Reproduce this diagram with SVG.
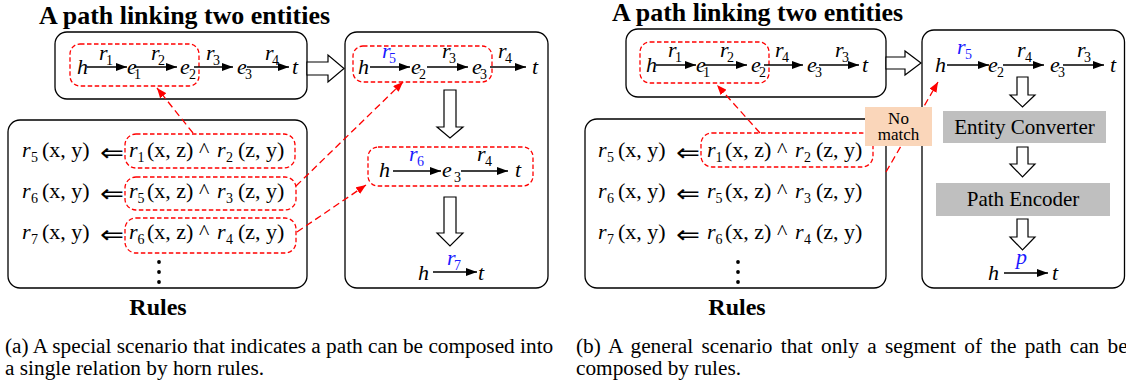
<svg xmlns="http://www.w3.org/2000/svg" width="1126" height="384" viewBox="0 0 1126 384">
<style>
.t{font-family:"Liberation Serif","Times New Roman",serif;fill:#000}
.it{font-family:"Liberation Serif","Times New Roman",serif;font-style:italic;font-size:22px}
.sub{font-family:"Liberation Serif","Times New Roman",serif;font-size:14px}
.rm{font-family:"Liberation Serif","Times New Roman",serif;font-size:22px}
.imp{font-family:"DejaVu Sans",sans-serif;font-size:25px}
.bold{font-family:"Liberation Serif","Times New Roman",serif;font-weight:bold}
.blue{fill:#1a1aff}
.box{fill:#fff;stroke:#000;stroke-width:1.3}
.red{fill:none;stroke:#ff0000;stroke-width:1.3;stroke-dasharray:4.5 2.5}
.conn{fill:none;stroke:#ff0000;stroke-width:1.3;stroke-dasharray:7 4;marker-end:url(#ra)}
.arr{stroke:#000;stroke-width:1.5;marker-end:url(#ba)}
.hollow{fill:#fff;stroke:#000;stroke-width:1.2}
.gray{fill:#bfbfbf}
.cap{font-family:"Liberation Serif","Times New Roman",serif;font-size:21.3px}
</style>
<defs>
<marker id="ba" markerUnits="userSpaceOnUse" markerWidth="11" markerHeight="8" refX="11" refY="4" orient="auto"><path d="M0,0 L11,4 L0,8 z" fill="#000"/></marker>
<marker id="ra" markerUnits="userSpaceOnUse" markerWidth="10" markerHeight="8" refX="10" refY="4" orient="auto"><path d="M0,0 L10,4 L0,8 z" fill="#ff0000"/></marker>
</defs>
<rect width="1126" height="384" fill="#fff"/>

<!-- ===== Panel (a) ===== -->
<g id="a-title"><text class="bold" x="39" y="24" font-size="25" textLength="291" lengthAdjust="spacingAndGlyphs">A path linking two entities</text></g>

<g id="a-path">
<rect class="box" x="55" y="32" width="252" height="67" rx="12"/>
<rect class="red" x="70" y="44" width="129" height="42" rx="10"/>
<text class="it" x="77" y="74">h</text>
<line class="arr" x1="87" y1="67" x2="127" y2="67"/>
<text class="it" x="99" y="60">r</text><text class="sub" x="106" y="65">1</text>
<text class="it" x="127" y="74">e</text><text class="sub" x="134" y="79">1</text>
<line class="arr" x1="134" y1="67" x2="177" y2="67"/>
<text class="it" x="151" y="60">r</text><text class="sub" x="158" y="65">2</text>
<text class="it" x="180" y="74">e</text><text class="sub" x="189" y="79">2</text>
<line class="arr" x1="194" y1="67" x2="233" y2="67"/>
<text class="it" x="206" y="60">r</text><text class="sub" x="213" y="65">3</text>
<text class="it" x="237" y="74">e</text><text class="sub" x="245" y="79">3</text>
<line class="arr" x1="247" y1="67" x2="289" y2="67"/>
<text class="it" x="265" y="60">r</text><text class="sub" x="272" y="65">4</text>
<text class="it" x="292" y="74">t</text>
</g>

<g id="a-arrow-right"><polygon class="hollow" points="307,62 328,62 328,55 344,68.5 328,82 328,75 307,75"/></g>

<g id="a-result">
<rect class="box" x="345" y="32" width="203" height="256" rx="12"/>
<rect class="red" x="353" y="46" width="139" height="36" rx="10"/>
<text class="it" x="358" y="74">h</text>
<line class="arr" x1="370" y1="67" x2="410" y2="67"/>
<text class="it blue" x="382" y="58">r</text><text class="sub blue" x="389" y="63">5</text>
<text class="it" x="411" y="74">e</text><text class="sub" x="419" y="79">2</text>
<line class="arr" x1="427" y1="67" x2="468" y2="67"/>
<text class="it" x="442" y="58">r</text><text class="sub" x="449" y="63">3</text>
<text class="it" x="472" y="74">e</text><text class="sub" x="480" y="79">3</text>
<line class="arr" x1="490" y1="67" x2="526" y2="67"/>
<text class="it" x="498" y="58">r</text><text class="sub" x="505" y="63">4</text>
<text class="it" x="532" y="74">t</text>

<polygon class="hollow" points="444,90 456,90 456,127 463,127 450,138 437,127 444,127"/>

<rect class="red" x="368" y="147" width="165" height="39" rx="10"/>
<text class="it" x="379" y="177">h</text>
<line class="arr" x1="393" y1="171" x2="441" y2="171"/>
<text class="it blue" x="409" y="161">r</text><text class="sub blue" x="417" y="166">6</text>
<text class="it" x="442" y="177">e</text><text class="sub" x="454" y="182">3</text>
<line class="arr" x1="461" y1="171" x2="508" y2="171"/>
<text class="it" x="477" y="161">r</text><text class="sub" x="485" y="166">4</text>
<text class="it" x="515" y="177">t</text>

<polygon class="hollow" points="444,197 456,197 456,233 463,233 450,246 437,233 444,233"/>

<text class="it" x="418" y="280">h</text>
<line class="arr" x1="433" y1="272" x2="477" y2="272"/>
<text class="it blue" x="447" y="265">r</text><text class="sub blue" x="454" y="270">7</text>
<text class="it" x="478" y="280">t</text>
</g>

<g id="a-rules">
<rect class="box" x="8" y="120" width="299" height="168" rx="12"/>
<rect class="red" x="125" y="134" width="170" height="34" rx="11"/>
<rect class="red" x="125" y="177" width="171" height="33" rx="11"/>
<rect class="red" x="125" y="218" width="171" height="35" rx="11"/>
<g>
<text class="it" x="22" y="157">r</text><text class="sub" x="31" y="162">5</text><text class="rm" x="42" y="157">(x, y)</text>
<text class="imp" x="100" y="161" textLength="24" lengthAdjust="spacingAndGlyphs">⇐</text>
<text class="it" x="129" y="157">r</text><text class="sub" x="137.5" y="162">1</text><text class="rm" x="147" y="157">(x, z)</text>
<text class="rm" x="199" y="157">^</text>
<text class="it" x="217" y="157">r</text><text class="sub" x="226" y="162">2</text><text class="rm" x="238" y="157">(z, y)</text>
</g>
<g>
<text class="it" x="22" y="198">r</text><text class="sub" x="31" y="203">6</text><text class="rm" x="42" y="198">(x, y)</text>
<text class="imp" x="100" y="202" textLength="24" lengthAdjust="spacingAndGlyphs">⇐</text>
<text class="it" x="129" y="198">r</text><text class="sub" x="137.5" y="203">5</text><text class="rm" x="147" y="198">(x, z)</text>
<text class="rm" x="199" y="198">^</text>
<text class="it" x="217" y="198">r</text><text class="sub" x="226" y="203">3</text><text class="rm" x="238" y="198">(z, y)</text>
</g>
<g>
<text class="it" x="22" y="239">r</text><text class="sub" x="31" y="244">7</text><text class="rm" x="42" y="239">(x, y)</text>
<text class="imp" x="100" y="243" textLength="24" lengthAdjust="spacingAndGlyphs">⇐</text>
<text class="it" x="129" y="239">r</text><text class="sub" x="137.5" y="244">6</text><text class="rm" x="147" y="239">(x, z)</text>
<text class="rm" x="199" y="239">^</text>
<text class="it" x="217" y="239">r</text><text class="sub" x="226" y="244">4</text><text class="rm" x="238" y="239">(z, y)</text>
</g>
<circle cx="159" cy="262" r="1.9"/><circle cx="159" cy="272" r="1.9"/><circle cx="159" cy="282" r="1.9"/>
<text class="bold" x="158" y="315" font-size="24" text-anchor="middle">Rules</text>
</g>

<!-- ===== Panel (b) ===== -->
<g id="b-title"><text class="bold" x="612" y="21" font-size="25" textLength="291" lengthAdjust="spacingAndGlyphs">A path linking two entities</text></g>

<g id="b-path">
<rect class="box" x="626" y="29" width="260" height="68" rx="12"/>
<rect class="red" x="640" y="42" width="129" height="41" rx="10"/>
<text class="it" x="646" y="72">h</text>
<line class="arr" x1="656" y1="65" x2="696" y2="65"/>
<text class="it" x="668" y="57">r</text><text class="sub" x="675" y="62">1</text>
<text class="it" x="696" y="72">e</text><text class="sub" x="703" y="77">1</text>
<line class="arr" x1="704" y1="65" x2="747" y2="65"/>
<text class="it" x="720" y="57">r</text><text class="sub" x="727" y="62">2</text>
<text class="it" x="751" y="72">e</text><text class="sub" x="759" y="77">2</text>
<line class="arr" x1="764" y1="65" x2="803" y2="65"/>
<text class="it" x="775" y="57">r</text><text class="sub" x="782" y="62">4</text>
<text class="it" x="807" y="72">e</text><text class="sub" x="815" y="77">3</text>
<line class="arr" x1="819" y1="65" x2="859" y2="65"/>
<text class="it" x="835" y="57">r</text><text class="sub" x="842" y="62">3</text>
<text class="it" x="862" y="72">t</text>
</g>

<g id="b-arrow-right"><polygon class="hollow" points="886,57 905,57 905,51 921,63 905,75 905,69 886,69"/></g>

<g id="b-result">
<rect class="box" x="922" y="30" width="202.5" height="258" rx="12"/>
<text class="it" x="935" y="72">h</text>
<line class="arr" x1="947" y1="65" x2="989" y2="65"/>
<text class="it blue" x="957" y="54">r</text><text class="sub blue" x="965" y="59">5</text>
<text class="it" x="988" y="72">e</text><text class="sub" x="997" y="77">2</text>
<line class="arr" x1="1003" y1="65" x2="1044" y2="65"/>
<text class="it" x="1017" y="57">r</text><text class="sub" x="1025" y="62">4</text>
<text class="it" x="1050" y="72">e</text><text class="sub" x="1058" y="77">3</text>
<line class="arr" x1="1063" y1="65" x2="1104" y2="65"/>
<text class="it" x="1077" y="57">r</text><text class="sub" x="1084" y="62">3</text>
<text class="it" x="1110" y="72">t</text>

<polygon class="hollow" points="1017,77 1028,77 1028,95 1035,95 1022.5,107 1010,95 1017,95"/>
<g id="b-entity-converter">
<rect class="gray" x="943" y="111" width="163" height="32"/>
<text class="t" x="1024.5" y="134" font-size="21" text-anchor="middle">Entity Converter</text>
</g>
<polygon class="hollow" points="1017,147 1028,147 1028,164 1035,164 1022.5,177 1010,164 1017,164"/>
<g id="b-path-encoder">
<rect class="gray" x="936" y="183" width="174" height="33"/>
<text class="t" x="1023" y="206" font-size="21" text-anchor="middle">Path Encoder</text>
</g>
<polygon class="hollow" points="1017,219 1028,219 1028,237 1035,237 1022.5,250 1010,237 1017,237"/>

<text class="it" x="988" y="280">h</text>
<line class="arr" x1="1004" y1="273" x2="1048" y2="273"/>
<text class="it blue" x="1016" y="264">p</text>
<text class="it" x="1052" y="280">t</text>
</g>

<g id="b-rules">
<rect class="box" x="585" y="119" width="301" height="169" rx="12"/>
<rect class="red" x="701" y="133" width="172" height="34" rx="11"/>
<g>
<text class="it" x="598" y="157">r</text><text class="sub" x="607" y="162">5</text><text class="rm" x="618" y="157">(x, y)</text>
<text class="imp" x="676" y="161" textLength="24" lengthAdjust="spacingAndGlyphs">⇐</text>
<text class="it" x="707" y="157">r</text><text class="sub" x="715.5" y="162">1</text><text class="rm" x="725" y="157">(x, z)</text>
<text class="rm" x="777" y="157">^</text>
<text class="it" x="795" y="157">r</text><text class="sub" x="804" y="162">2</text><text class="rm" x="816" y="157">(z, y)</text>
</g>
<g>
<text class="it" x="598" y="198">r</text><text class="sub" x="607" y="203">6</text><text class="rm" x="618" y="198">(x, y)</text>
<text class="imp" x="676" y="202" textLength="24" lengthAdjust="spacingAndGlyphs">⇐</text>
<text class="it" x="707" y="198">r</text><text class="sub" x="715.5" y="203">5</text><text class="rm" x="725" y="198">(x, z)</text>
<text class="rm" x="777" y="198">^</text>
<text class="it" x="795" y="198">r</text><text class="sub" x="804" y="203">3</text><text class="rm" x="816" y="198">(z, y)</text>
</g>
<g>
<text class="it" x="598" y="239">r</text><text class="sub" x="607" y="244">7</text><text class="rm" x="618" y="239">(x, y)</text>
<text class="imp" x="676" y="243" textLength="24" lengthAdjust="spacingAndGlyphs">⇐</text>
<text class="it" x="707" y="239">r</text><text class="sub" x="715.5" y="244">6</text><text class="rm" x="725" y="239">(x, z)</text>
<text class="rm" x="777" y="239">^</text>
<text class="it" x="795" y="239">r</text><text class="sub" x="804" y="244">4</text><text class="rm" x="816" y="239">(z, y)</text>
</g>
<circle cx="738" cy="262" r="1.9"/><circle cx="738" cy="272" r="1.9"/><circle cx="738" cy="282" r="1.9"/>
<text class="bold" x="737" y="315" font-size="24" text-anchor="middle">Rules</text>
</g>

<!-- ===== Connectors ===== -->
<g id="connectors">
<line class="conn" x1="193" y1="133" x2="157" y2="88"/>
<line class="conn" x1="296" y1="186" x2="403" y2="82"/>
<line class="conn" x1="297" y1="232" x2="366" y2="185"/>
<line class="conn" x1="760" y1="133" x2="717" y2="85"/>
<line class="conn" x1="886" y1="172" x2="938" y2="82"/>
</g>

<g id="b-nomatch">
<rect x="865" y="107" width="67" height="39" fill="#fad6ba"/>
<text class="t" x="898.5" y="124" font-size="17" text-anchor="middle">No</text>
<text class="t" x="898.5" y="140" font-size="17" text-anchor="middle">match</text>
</g>

<g id="captions">
<text class="cap" x="5" y="353">(a)  A special scenario that indicates a path can be composed into</text>
<text class="cap" x="5" y="375">a single relation by horn rules.</text>
<text class="cap" x="576" y="353" word-spacing="3">(b)  A general scenario that only a segment of the path can be</text>
<text class="cap" x="576" y="375">composed by rules.</text>
</g>
</svg>
